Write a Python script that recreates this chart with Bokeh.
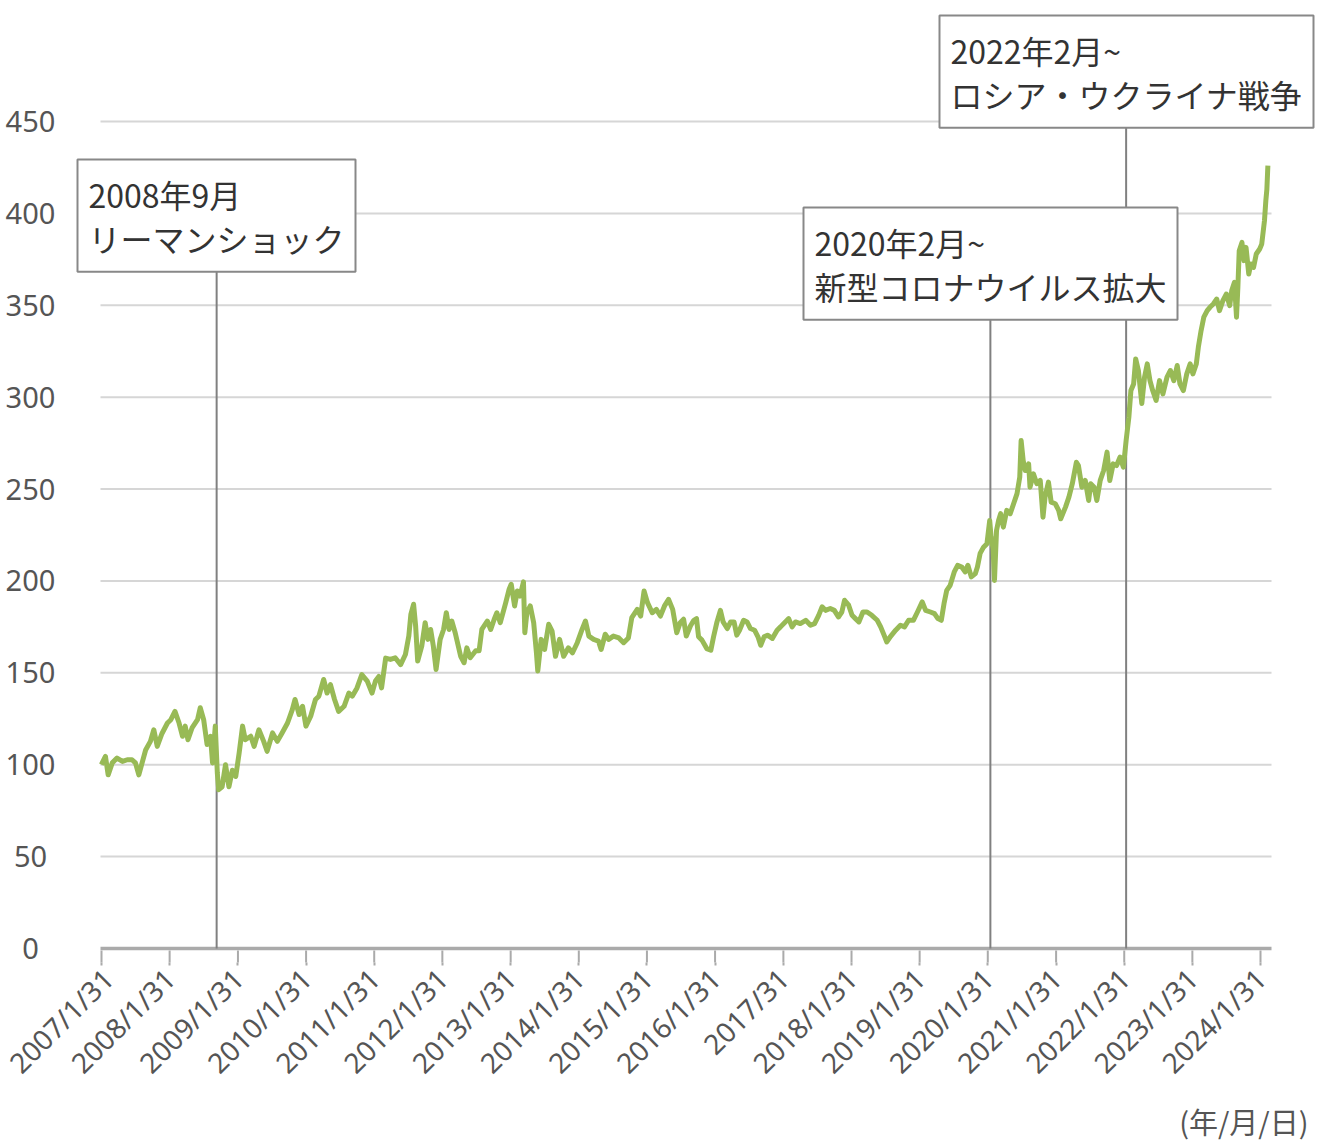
import numpy as np
import pandas as pd
from bokeh.plotting import figure
from bokeh.models import Range1d, FixedTicker, Label, Title
from bokeh.core.properties import value
from bokeh.embed import file_html
from bokeh.resources import INLINE

# ---- data (decimal year, index value) ----
years = [
    2007.08, 2007.14, 2007.18, 2007.24, 2007.31, 2007.39, 2007.46, 2007.53, 2007.58, 2007.63,
    2007.73, 2007.80, 2007.85, 2007.90, 2007.97, 2008.05, 2008.10, 2008.16, 2008.22, 2008.27,
    2008.31, 2008.35, 2008.41, 2008.49, 2008.53, 2008.58, 2008.63, 2008.68, 2008.71, 2008.75,
    2008.78, 2008.80, 2008.85, 2008.90, 2008.95, 2009.00, 2009.05, 2009.10, 2009.15, 2009.19,
    2009.27, 2009.32, 2009.39, 2009.46, 2009.51, 2009.59, 2009.66, 2009.73, 2009.81, 2009.88,
    2009.92, 2009.98, 2010.03, 2010.08, 2010.15, 2010.22, 2010.27, 2010.34, 2010.39, 2010.44,
    2010.50, 2010.56, 2010.64, 2010.71, 2010.76, 2010.83, 2010.90, 2010.98, 2011.05, 2011.10,
    2011.15, 2011.19, 2011.25, 2011.32, 2011.39, 2011.47, 2011.54, 2011.59, 2011.62, 2011.66,
    2011.69, 2011.72, 2011.78, 2011.83, 2011.87, 2011.91, 2011.95, 2011.99, 2012.05, 2012.10,
    2012.14, 2012.18, 2012.22, 2012.27, 2012.35, 2012.40, 2012.44, 2012.49, 2012.57, 2012.62,
    2012.66, 2012.74, 2012.79, 2012.84, 2012.88, 2012.93, 2013.01, 2013.06, 2013.09, 2013.14,
    2013.18, 2013.22, 2013.27, 2013.29, 2013.32, 2013.37, 2013.42, 2013.46, 2013.48, 2013.53,
    2013.58, 2013.64, 2013.69, 2013.74, 2013.80, 2013.86, 2013.93, 2013.99, 2014.06, 2014.13,
    2014.18, 2014.23, 2014.30, 2014.37, 2014.41, 2014.47, 2014.52, 2014.59, 2014.67, 2014.74,
    2014.81, 2014.86, 2014.94, 2014.99, 2015.04, 2015.09, 2015.16, 2015.22, 2015.28, 2015.34,
    2015.40, 2015.46, 2015.52, 2015.57, 2015.62, 2015.66, 2015.72, 2015.77, 2015.81, 2015.84,
    2015.89, 2015.96, 2016.02, 2016.06, 2016.11, 2016.16, 2016.20, 2016.26, 2016.31, 2016.36,
    2016.40, 2016.44, 2016.50, 2016.55, 2016.60, 2016.66, 2016.71, 2016.75, 2016.80, 2016.85,
    2016.92, 2016.99, 2017.04, 2017.11, 2017.16, 2017.21, 2017.26, 2017.33, 2017.41, 2017.48,
    2017.54, 2017.60, 2017.65, 2017.70, 2017.77, 2017.83, 2017.89, 2017.94, 2017.98, 2018.04,
    2018.09, 2018.14, 2018.19, 2018.25, 2018.31, 2018.38, 2018.46, 2018.51, 2018.56, 2018.60,
    2018.65, 2018.73, 2018.80, 2018.86, 2018.92, 2018.99, 2019.05, 2019.12, 2019.17, 2019.24,
    2019.30, 2019.35, 2019.40, 2019.44, 2019.48, 2019.53, 2019.59, 2019.64, 2019.70, 2019.75,
    2019.79, 2019.84, 2019.90, 2019.93, 2019.97, 2020.02, 2020.07, 2020.11, 2020.13, 2020.16,
    2020.18, 2020.21, 2020.24, 2020.27, 2020.31, 2020.36, 2020.41, 2020.46, 2020.51, 2020.55,
    2020.57, 2020.60, 2020.63, 2020.68, 2020.70, 2020.75, 2020.80, 2020.85, 2020.89, 2020.92,
    2020.97, 2021.01, 2021.07, 2021.12, 2021.15, 2021.22, 2021.27, 2021.32, 2021.38, 2021.41,
    2021.46, 2021.51, 2021.56, 2021.59, 2021.64, 2021.68, 2021.73, 2021.78, 2021.83, 2021.87,
    2021.92, 2021.97, 2022.02, 2022.07, 2022.11, 2022.15, 2022.18, 2022.22, 2022.25, 2022.29,
    2022.34, 2022.38, 2022.42, 2022.46, 2022.50, 2022.55, 2022.60, 2022.65, 2022.71, 2022.76,
    2022.81, 2022.86, 2022.90, 2022.95, 2023.00, 2023.05, 2023.09, 2023.14, 2023.17, 2023.21,
    2023.25, 2023.30, 2023.34, 2023.39, 2023.44, 2023.48, 2023.53, 2023.58, 2023.63, 2023.66,
    2023.70, 2023.73, 2023.75, 2023.77, 2023.81, 2023.84, 2023.87, 2023.91, 2023.94, 2023.98,
    2024.02, 2024.07, 2024.10, 2024.14, 2024.16, 2024.175, 2024.19,
]
values = [
    100.0, 104.5, 94.5, 101.0, 103.6, 101.8, 102.7, 102.7, 101.0, 94.5,
    108.0, 112.7, 119.0, 110.0, 117.0, 122.7, 124.5, 129.0, 122.7, 115.5,
    121.0, 113.6, 120.0, 124.5, 131.0, 124.5, 111.0, 115.5, 101.0, 121.0,
    95.5, 86.4, 88.0, 100.0, 88.0, 97.0, 93.6, 106.4, 121.0, 113.6,
    115.5, 110.0, 119.0, 112.7, 107.3, 117.3, 112.7, 117.3, 122.7, 130.0,
    135.5, 127.3, 131.8, 121.0, 126.4, 135.5, 137.3, 146.4, 139.0, 143.6,
    135.5, 129.0, 131.8, 139.0, 137.3, 141.8, 149.0, 145.5, 139.0, 145.5,
    148.0, 141.8, 158.0, 157.3, 158.2, 154.5, 160.0, 170.0, 181.8, 187.3,
    175.5, 156.4, 164.5, 177.3, 168.2, 173.6, 164.5, 151.8, 168.2, 173.6,
    182.7, 173.6, 178.2, 171.8, 159.0, 155.5, 163.6, 158.2, 162.0, 162.0,
    173.6, 178.2, 173.6, 179.0, 182.7, 177.3, 188.2, 195.5, 198.2, 186.4,
    194.5, 191.8, 199.5, 171.8, 182.7, 186.4, 177.3, 161.0, 151.0, 168.2,
    162.7, 176.4, 172.7, 159.0, 168.2, 159.0, 163.6, 160.9, 166.4, 173.6,
    178.2, 170.0, 168.2, 167.3, 162.7, 171.0, 168.2, 170.0, 169.0, 166.4,
    169.0, 180.0, 184.5, 180.9, 194.5, 188.2, 182.7, 184.5, 180.9, 186.4,
    190.0, 184.5, 171.8, 177.3, 179.2, 170.0, 175.5, 178.6, 179.5, 169.6,
    167.8, 163.2, 162.3, 169.6, 177.7, 184.0, 177.7, 174.1, 177.7, 177.7,
    170.5, 173.2, 178.6, 177.7, 174.1, 173.2, 169.6, 165.0, 169.6, 170.5,
    168.7, 173.2, 175.0, 177.7, 179.5, 175.0, 177.7, 176.8, 178.6, 175.9,
    176.8, 181.3, 185.9, 184.0, 185.0, 184.0, 180.4, 183.1, 189.5, 186.8,
    181.3, 179.5, 177.7, 183.1, 183.1, 181.3, 178.6, 175.0, 170.5, 166.8,
    169.6, 173.2, 175.9, 175.0, 178.6, 178.6, 183.1, 188.6, 184.0, 183.1,
    182.2, 179.5, 178.6, 187.7, 194.9, 197.6, 204.9, 208.5, 207.6, 204.9,
    208.5, 202.2, 204.0, 207.6, 215.0, 218.4, 220.3, 232.9, 223.9, 217.5,
    200.3, 227.5, 232.9, 236.6, 229.3, 238.4, 236.6, 242.0, 247.5, 256.5,
    276.4, 265.5, 260.1, 263.7, 251.0, 258.3, 252.9, 254.7, 234.7, 245.6,
    253.8, 242.9, 242.0, 238.4, 233.8, 240.2, 245.6, 252.9, 264.6, 262.8,
    251.0, 254.7, 243.8, 252.9, 251.0, 243.8, 254.7, 260.1, 270.1, 254.7,
    263.7, 262.8, 267.4, 261.9, 276.4, 289.1, 303.6, 307.2, 320.8, 314.5,
    296.5, 310.9, 318.1, 309.0, 303.6, 298.2, 309.0, 301.8, 310.9, 314.5,
    309.0, 317.2, 307.2, 303.6, 312.7, 318.1, 312.7, 318.1, 327.2, 336.2,
    343.5, 347.1, 348.9, 350.7, 353.4, 347.1, 352.5, 356.1, 349.8, 358.0,
    362.5, 343.5, 359.8, 379.7, 384.2, 374.3, 381.5, 367.0, 372.5, 370.6,
    377.9, 380.6, 383.3, 396.0, 406.9, 413.0, 426.0,
]

tick_years = [2007, 2008, 2009, 2010, 2011, 2012, 2013, 2014, 2015, 2016,
              2017, 2018, 2019, 2020, 2021, 2022, 2023, 2024]
tick_labels = ["2007/1/31", "2008/1/31", "2009/1/31", "2010/1/31", "2011/1/31",
               "2012/1/31", "2013/1/31", "2014/1/31", "2015/1/31", "2016/1/31",
               "2017/31", "2018/1/31", "2019/1/31", "2020/1/31", "2021/1/31",
               "2022/1/31", "2023/1/31", "2024/1/31"]
y_ticks = [0, 50, 100, 150, 200, 250, 300, 350, 400, 450]
y_tick_labels = ["0", "50", "100", "150", "200", "250", "300", "350", "400", "450"]

event_years = [2008.77, 2020.12, 2022.11]
event_texts = ["2008年9月\nリーマンショック",
               "2020年2月~\n新型コロナウイルス拡大",
               "2022年2月~\nロシア・ウクライナ戦争"]
unit_text = "(年/月/日)"


def yr2ms(y):
    yi = int(np.floor(y))
    a = pd.Timestamp(yi, 1, 1)
    b = pd.Timestamp(yi + 1, 1, 1)
    return (a + (b - a) * (y - yi)).value / 1e6


xs = [yr2ms(y) for y in years]
tick_ms = [pd.Timestamp(y, 1, 31).value / 1e6 for y in tick_years]

# layout geometry (pixels)
W, H = 1328, 1144
FRAME_BOTTOM = 962          # frame spans full width, from top to the middle of the ticks
AX_LEFT, AX_RIGHT, ZERO_PX = 100, 1271, 948
T0_PX, T1_PX = 101, 1260
mpp = (tick_ms[-1] - tick_ms[0]) / (T1_PX - T0_PX)
x_start = tick_ms[0] - T0_PX * mpp
x_end = tick_ms[0] + (W - T0_PX) * mpp
ppu = (ZERO_PX - 121) / 450.0
y_start = -(FRAME_BOTTOM - ZERO_PX) / ppu
y_end = ZERO_PX / ppu


def px_x(px):
    return tick_ms[0] + (px - T0_PX) * mpp


def px_y(py):
    return (ZERO_PX - py) / ppu


p = figure(frame_width=W, frame_height=FRAME_BOTTOM, x_axis_type="datetime",
           x_range=Range1d(x_start, x_end), y_range=Range1d(y_start, y_end),
           output_backend="svg", toolbar_location=None,
           min_border_left=0, min_border_right=0,
           min_border_top=0, min_border_bottom=H - FRAME_BOTTOM)
p.outline_line_color = None
p.background_fill_color = "white"
p.border_fill_color = "white"

p.yaxis.visible = False
p.xgrid.visible = False
p.ygrid.visible = False

# horizontal grid lines over the plotting area
gx0, gx1 = px_x(AX_LEFT), px_x(AX_RIGHT)
grid_y = [v for v in y_ticks if v > 0]
p.segment(x0=[gx0] * len(grid_y), y0=grid_y, x1=[gx1] * len(grid_y), y1=grid_y,
          line_color="#d6d6d6", line_width=2)

# x axis: Bokeh's ticks (continued up to the base line) and rotated labels
xa = p.xaxis[0]
xa.ticker = FixedTicker(ticks=tick_ms)
xa.major_label_overrides = {t: lab for t, lab in zip(tick_ms, tick_labels)}
xa.major_label_orientation = np.pi / 4
xa.major_label_text_font = "Noto Sans"
xa.major_label_text_font_size = "28px"
xa.major_label_text_color = "#555555"
xa.major_label_standoff = 8
xa.axis_line_color = None
xa.major_tick_line_color = "#aaaaaa"
xa.major_tick_line_width = 2
xa.major_tick_in = 0
xa.major_tick_out = 3
xa.minor_tick_line_color = None
p.segment(x0=tick_ms, y0=[px_y(950)] * len(tick_ms), x1=tick_ms,
          y1=[px_y(FRAME_BOTTOM + 1)] * len(tick_ms),
          line_color="#aaaaaa", line_width=2)
p.segment(x0=[gx0], y0=[0], x1=[gx1], y1=[0], line_color="#aaaaaa", line_width=3.5)

# y tick labels, centred as in the reference
p.text(x=[px_x(30)] * len(y_ticks), y=y_ticks, text=y_tick_labels,
       text_align="center", text_baseline="middle", text_font=value("Noto Sans"),
       text_font_size="29px", text_color="#555555")

# unit note under the x axis
p.add_layout(Title(text=unit_text, align="right", offset=20, standoff=0,
                   text_font="Noto Sans CJK JP", text_font_size="29px",
                   text_font_style="normal", text_color="#555555"), "below")

# event lines
box_tops = [(77, 159), (803, 207), (939, 15)]
box_bottoms = [270, 318, 125]
ev_x = [yr2ms(e) for e in event_years]
p.segment(x0=ev_x, y0=[0, 0, 0], x1=ev_x, y1=[px_y(b) for b in box_bottoms],
          line_color="#808080", line_width=2)

# data line
p.line(xs, values, line_color="#98ba56", line_width=5, line_join="round")

for (bx, by), txt in zip(box_tops, event_texts):
    p.add_layout(Label(x=px_x(bx), y=px_y(by), text=txt, text_align="left",
                       text_baseline="top", text_font="Noto Sans CJK JP",
                       text_font_size="32px", text_color="#333333",
                       text_line_height=0.96, padding=11,
                       background_fill_color="white", border_line_color="#888888",
                       border_line_width=2))

open("out.html", "w").write(file_html(p, INLINE))
